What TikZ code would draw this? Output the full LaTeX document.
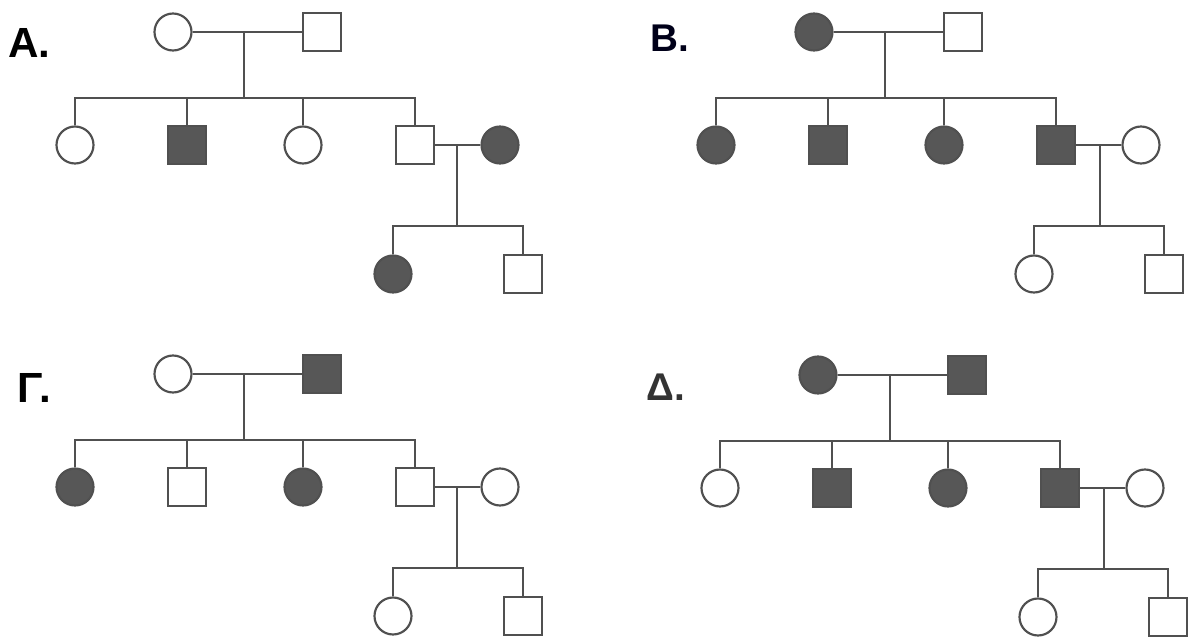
\documentclass[tikz,border=0pt]{standalone}
\usepackage{fontspec}
\setmainfont{Liberation Sans}
\usetikzlibrary{positioning}

\definecolor{pedgray}{HTML}{505050}
\definecolor{pedfill}{HTML}{575757}

\begin{document}
\begin{tikzpicture}[x=0.03cm, y=-0.03cm,
    fem/.style={circle, draw=pedgray, fill=white, line width=0.065cm, minimum size=1.11cm, inner sep=0pt},
    mal/.style={rectangle, draw=pedgray, fill=white, line width=0.065cm, minimum size=1.14cm, inner sep=0pt},
    aff/.style={fill=pedfill},
    link/.style={pedgray, line width=0.065cm},
    tag/.style={anchor=base west, inner sep=0pt, font=\bfseries\fontsize{36}{36}\selectfont},
    smalltag/.style={tag, font=\bfseries\fontsize{33}{33}\selectfont}]

        \useasboundingbox (0,0) rectangle (1192,637);

        % pedigree A (top left)
        \node[tag] (a-lab) at (8,57) {Α.};
        \node[fem] (a-m) at (173,32) {};
        \node[mal] (a-f) at (322,32) {};
        \node[fem] (a-c1) at (75,145) {};
        \node[mal, aff] (a-c2) at (187,145) {};
        \node[fem] (a-c3) at (303,145) {};
        \node[mal] (a-c4) at (415,145) {};
        \node[fem, aff] (a-sp) at (500,145) {};
        \node[fem, aff] (a-g1) at (393,274) {};
        \node[mal] (a-g2) at (523,274) {};
        \coordinate (a-u) at (244,32);
        \coordinate (a-s) at (244,98);
        \coordinate (a-v) at (457,145);
        \coordinate (a-t) at (457,226);
        \draw[link] (a-m) -- (a-f);
        \draw[link] (a-u) -- (a-s);
        \draw[link] (a-c1) |- (a-s) -| (a-c4);
        \draw[link] (a-c2) -- (a-c2 |- a-s);
        \draw[link] (a-c3) -- (a-c3 |- a-s);
        \draw[link] (a-c4) -- (a-sp);
        \draw[link] (a-v) -- (a-t);
        \draw[link] (a-g1) |- (a-t) -| (a-g2);

        % pedigree B (top right)
        \begin{scope}[shift={(641,0)}]
        \node[smalltag, text=black!90!blue] (b-lab) at (9,51) {Β.};
        \node[fem, aff] (b-m) at (173,32) {};
        \node[mal] (b-f) at (322,32) {};
        \node[fem, aff] (b-c1) at (75,145) {};
        \node[mal, aff] (b-c2) at (187,145) {};
        \node[fem, aff] (b-c3) at (303,145) {};
        \node[mal, aff] (b-c4) at (415,145) {};
        \node[fem] (b-sp) at (500,145) {};
        \node[fem] (b-g1) at (393,274) {};
        \node[mal] (b-g2) at (523,274) {};
        \coordinate (b-u) at (244,32);
        \coordinate (b-s) at (244,98);
        \coordinate (b-v) at (459,145);
        \coordinate (b-t) at (459,226);
        \draw[link] (b-m) -- (b-f);
        \draw[link] (b-u) -- (b-s);
        \draw[link] (b-c1) |- (b-s) -| (b-c4);
        \draw[link] (b-c2) -- (b-c2 |- b-s);
        \draw[link] (b-c3) -- (b-c3 |- b-s);
        \draw[link] (b-c4) -- (b-sp);
        \draw[link] (b-v) -- (b-t);
        \draw[link] (b-g1) |- (b-t) -| (b-g2);
        \end{scope}

        % pedigree C (bottom left)
        \begin{scope}[shift={(0,342)}]
        \node[tag] (g-lab) at (17,60) {Γ\kern-3pt.};
        \node[fem] (g-m) at (173,32) {};
        \node[mal, aff] (g-f) at (322,32) {};
        \node[fem, aff] (g-c1) at (75,145) {};
        \node[mal] (g-c2) at (187,145) {};
        \node[fem, aff] (g-c3) at (303,145) {};
        \node[mal] (g-c4) at (415,145) {};
        \node[fem] (g-sp) at (500,145) {};
        \node[fem] (g-g1) at (393,274) {};
        \node[mal] (g-g2) at (523,274) {};
        \coordinate (g-u) at (244,32);
        \coordinate (g-s) at (244,98);
        \coordinate (g-v) at (457,145);
        \coordinate (g-t) at (457,226);
        \draw[link] (g-m) -- (g-f);
        \draw[link] (g-u) -- (g-s);
        \draw[link] (g-c1) |- (g-s) -| (g-c4);
        \draw[link] (g-c2) -- (g-c2 |- g-s);
        \draw[link] (g-c3) -- (g-c3 |- g-s);
        \draw[link] (g-c4) -- (g-sp);
        \draw[link] (g-v) -- (g-t);
        \draw[link] (g-g1) |- (g-t) -| (g-g2);
        \end{scope}

        % pedigree D (bottom right)
        \begin{scope}[shift={(645,343)}]
        \node[smalltag, text=black!80] (d-lab) at (1,57) {Δ.};
        \node[fem, aff] (d-m) at (173,32) {};
        \node[mal, aff] (d-f) at (322,32) {};
        \node[fem] (d-c1) at (75,145) {};
        \node[mal, aff] (d-c2) at (187,145) {};
        \node[fem, aff] (d-c3) at (303,145) {};
        \node[mal, aff] (d-c4) at (415,145) {};
        \node[fem] (d-sp) at (500,145) {};
        \node[fem] (d-g1) at (393,274) {};
        \node[mal] (d-g2) at (523,274) {};
        \coordinate (d-u) at (245,32);
        \coordinate (d-s) at (245,98);
        \coordinate (d-v) at (459,145);
        \coordinate (d-t) at (459,226);
        \draw[link] (d-m) -- (d-f);
        \draw[link] (d-u) -- (d-s);
        \draw[link] (d-c1) |- (d-s) -| (d-c4);
        \draw[link] (d-c2) -- (d-c2 |- d-s);
        \draw[link] (d-c3) -- (d-c3 |- d-s);
        \draw[link] (d-c4) -- (d-sp);
        \draw[link] (d-v) -- (d-t);
        \draw[link] (d-g1) |- (d-t) -| (d-g2);
        \end{scope}

\end{tikzpicture}
\end{document}
